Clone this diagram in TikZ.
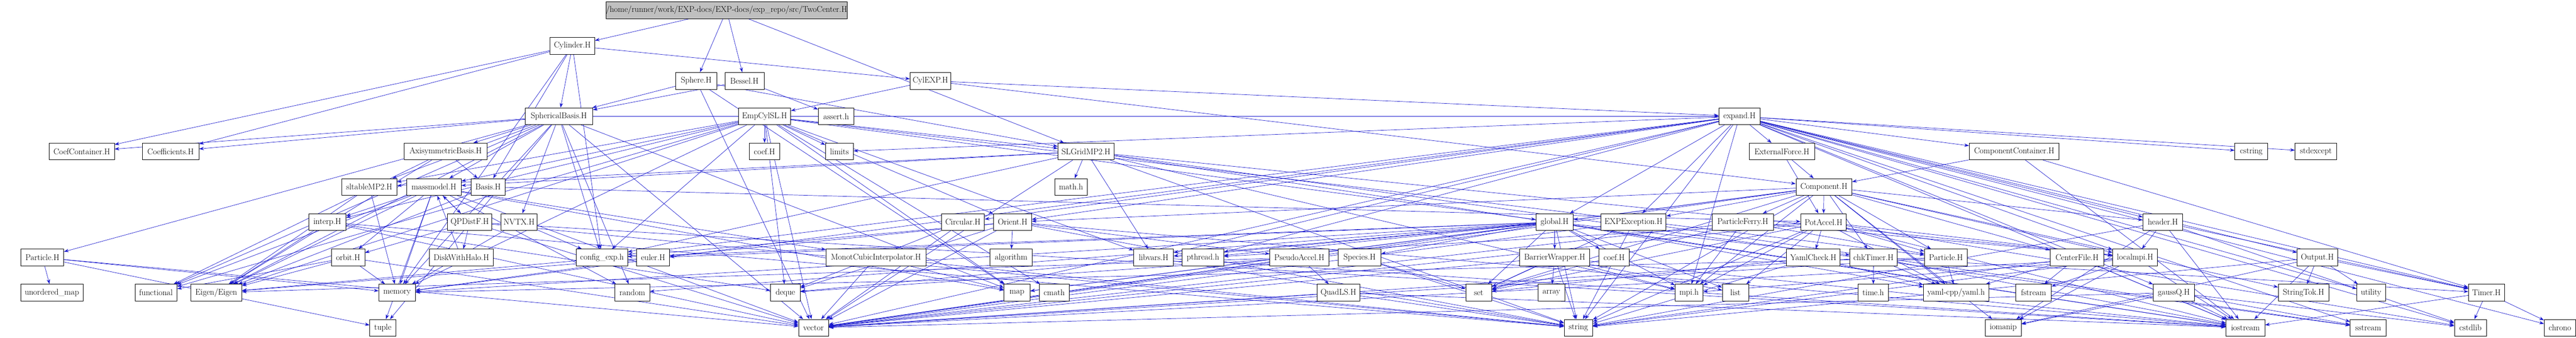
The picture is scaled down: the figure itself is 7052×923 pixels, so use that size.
\documentclass[tikz,border=0pt]{standalone}
\usetikzlibrary{arrows.meta,backgrounds}
\definecolor{edgeblue}{RGB}{25,25,205}
\definecolor{rootgray}{RGB}{191,191,191}
\tikzset{
  box/.style={draw=black,line width=1.2pt,fill=white,minimum height=46pt,inner sep=0pt,font=\fontsize{23}{26}\selectfont},
  rootbox/.style={box,fill=rootgray},
  edge/.style={draw=edgeblue,line width=1pt,-{Stealth[length=13pt,width=9pt]}}
}
\begin{document}
\begin{tikzpicture}[x=1pt,y=-1pt]
\useasboundingbox (0,0) rectangle (7052,923);
\newcommand{\nd}[5]{\node[box,minimum width=#4pt] (#1) at (#2,#3) {#5};}
\node[rootbox,minimum width=648pt] (root) at (1989,28) {/home/runner/work/EXP-docs/EXP-docs/exp\_repo/src/TwoCenter.H};
% row1
\nd{cyl}{1567}{125}{122}{Cylinder.H}
% row2
\nd{sph}{1906}{221}{113}{Sphere.H}
\nd{bes}{2038}{221}{107}{Bessel.H}
\nd{cylexp}{2547}{221}{111}{CylEXP.H}
% row3
\nd{sb}{1530}{318}{185}{SphericalBasis.H}
\nd{emp}{2093}{318}{143}{EmpCylSL.H}
\nd{assert}{2289}{318}{98}{assert.h}
\nd{expand}{4762}{318}{113}{expand.H}
% row4
\nd{ccf}{224}{414}{178}{CoefContainer.H}
\nd{cfs}{467}{414}{155}{Coefficients.H}
\nd{axi}{1220}{414}{226}{AxisymmetricBasis.H}
\nd{coefA}{2093}{414}{84}{coef.H}
\nd{limits}{2298}{414}{76}{limits}
\nd{slg}{2973}{414}{154}{SLGridMP2.H}
\nd{extf}{4878}{414}{179}{ExternalForce.H}
\nd{compc}{5514}{414}{246}{ComponentContainer.H}
\nd{cstring}{6163}{414}{90}{cstring}
\nd{stdexc}{6340}{414}{114}{stdexcept}
% row5
\nd{sltab}{1011}{511}{151}{sltableMP2.H}
\nd{mm}{1188}{511}{149}{massmodel.H}
\nd{basis}{1336}{511}{94}{Basis.H}
\nd{mathh}{2932}{511}{90}{math.h}
\nd{comp}{4993}{511}{153}{Component.H}
% row6
\nd{interp}{896}{607}{102}{interp.H}
\nd{qpd}{1286}{607}{121}{QPDistF.H}
\nd{nvtx}{1421}{607}{99}{NVTX.H}
\nd{circ}{2636}{607}{118}{Circular.H}
\nd{orient}{2772}{607}{104}{Orient.H}
\nd{glob}{4256}{607}{102}{global.H}
\nd{expe}{4472}{607}{178}{EXPException.H}
\nd{pferry}{4771}{607}{167}{ParticleFerry.H}
\nd{potacc}{4992}{607}{125}{PotAccel.H}
\nd{header}{5921}{607}{109}{header.H}
% row7
\nd{partL}{116}{704}{117}{Particle.H}
\nd{orbit}{953}{704}{91}{orbit.H}
\nd{dwh}{1263}{704}{174}{DiskWithHalo.H}
\nd{cfg}{1648}{704}{140}{config\_exp.h}
\nd{euler}{1788}{704}{90}{euler.H}
\nd{mci}{2398}{704}{273}{MonotCubicInterpolator.H}
\nd{algo}{2768}{704}{115}{algorithm}
\nd{libvars}{3158}{704}{109}{libvars.H}
\nd{pthread}{3293}{704}{114}{pthread.h}
\nd{pseudo}{3557}{704}{162}{PseudoAccel.H}
\nd{species}{3722}{704}{117}{Species.H}
\nd{barrier}{4256}{704}{192}{BarrierWrapper.H}
\nd{coefB}{4419}{704}{83}{coef.H}
\nd{yamlc}{4964}{704}{147}{YamlCheck.H}
\nd{chkt}{5129}{704}{129}{chkTimer.H}
\nd{partR}{5327}{704}{117}{Particle.H}
\nd{centerf}{5686}{704}{146}{CenterFile.H}
\nd{localmpi}{5845}{704}{123}{localmpi.H}
\nd{output}{6344}{704}{111}{Output.H}
% row8
\nd{umap}{142}{800}{170}{unordered\_map}
\nd{functional}{427}{800}{115}{functional}
\nd{eigen}{592}{800}{140}{Eigen/Eigen}
\nd{memory}{1087}{800}{100}{memory}
\nd{random}{1731}{800}{95}{random}
\nd{deque}{2150}{800}{81}{deque}
\nd{map}{2784}{800}{71}{map}
\nd{cmath}{2886}{800}{81}{cmath}
\nd{quadls}{3664}{800}{118}{QuadLS.H}
\nd{set}{4048}{800}{71}{set}
\nd{array}{4247}{800}{74}{array}
\nd{mpih}{4624}{800}{76}{mpi.h}
\nd{list}{4751}{800}{72}{list}
\nd{timeh}{5128}{800}{82}{time.h}
\nd{yaml}{5355}{800}{179}{yaml-cpp/yaml.h}
\nd{fstream}{5567}{800}{97}{fstream}
\nd{gaussq}{5951}{800}{113}{gaussQ.H}
\nd{stringtok}{6306}{800}{138}{StringTok.H}
\nd{utility}{6491}{800}{78}{utility}
\nd{timer}{6807}{800}{99}{Timer.H}
% row9
\nd{tuple}{1048}{896}{71}{tuple}
\nd{vector}{2227}{896}{82}{vector}
\nd{string}{4321}{896}{78}{string}
\nd{iomanip}{5484}{896}{98}{iomanip}
\nd{iostream}{6147}{896}{106}{iostream}
\nd{sstream}{6483}{896}{98}{sstream}
\nd{cstdlib}{6763}{896}{88}{cstdlib}
\nd{chrono}{7008}{896}{86}{chrono}
\begin{pgfonlayer}{background}
\foreach \a/\b in {root/cyl,root/sph,root/bes,root/slg,
 cyl/cylexp,cyl/basis,cyl/cfg,cyl/ccf,cyl/cfs,cyl/memory,cyl/sb,
 sph/sb,sph/slg,sph/vector,sph/map,
 bes/sb,bes/assert,
 cylexp/emp,cylexp/expand,cylexp/comp,
 sb/ccf,sb/cfs,sb/axi,sb/nvtx,sb/cfg,sb/expand,sb/eigen,sb/memory,sb/vector,sb/random,sb/map,sb/mm,sb/partL,sb/functional,sb/tuple,sb/sltab,
 axi/basis,axi/eigen,axi/functional,
 basis/eigen,basis/potacc,
 emp/coefA,emp/limits,emp/slg,emp/orient,emp/deque,emp/vector,emp/map,emp/cmath,emp/libvars,emp/cfg,emp/partR,emp/mm,emp/sltab,emp/interp,emp/eigen,emp/functional,emp/memory,emp/expand,emp/glob,
 slg/mathh,slg/libvars,slg/vector,slg/mm,slg/sltab,slg/cfg,slg/mpih,slg/string,slg/iostream,slg/localmpi,slg/sstream,
 mm/interp,mm/qpd,mm/orbit,mm/eigen,mm/memory,mm/random,mm/vector,mm/map,mm/tuple,mm/functional,mm/mci,
 qpd/mm,qpd/dwh,qpd/orbit,qpd/vector,qpd/string,qpd/iostream,
 dwh/mm,
 interp/eigen,interp/vector,interp/deque,interp/string,
 orbit/eigen,orbit/memory,orbit/functional,orbit/vector,
 nvtx/cfg,nvtx/memory,
 sltab/eigen,sltab/memory,
 partL/umap,partL/memory,partL/tuple,partL/vector,
 expand/glob,expand/expe,expand/mpih,expand/extf,expand/compc,expand/cstring,expand/stdexc,expand/output,expand/timer,expand/cstdlib,expand/chrono,expand/sstream,expand/iostream,expand/orient,expand/circ,expand/libvars,expand/pthread,expand/localmpi,expand/gaussq,expand/header,expand/limits,expand/cfg,expand/utility,expand/vector,expand/string,expand/memory,
 extf/comp,extf/potacc,
 compc/comp,compc/timer,compc/iostream,
 comp/glob,comp/expe,comp/pferry,comp/potacc,comp/orient,comp/mpih,comp/yaml,comp/centerf,comp/localmpi,comp/header,comp/partR,comp/chkt,comp/vector,comp/map,comp/set,comp/string,comp/iomanip,comp/stringtok,
 glob/barrier,glob/coefB,glob/species,glob/set,glob/mpih,glob/list,glob/string,glob/vector,glob/map,glob/random,glob/deque,glob/memory,glob/euler,glob/libvars,glob/pthread,glob/chkt,glob/yaml,glob/cfg,glob/iostream,
 expe/string,expe/set,expe/sstream,expe/vector,
 pferry/partR,pferry/localmpi,pferry/mpih,pferry/vector,pferry/set,
 potacc/yamlc,potacc/partR,potacc/yaml,potacc/mpih,potacc/list,potacc/string,potacc/localmpi,potacc/pthread,potacc/cstdlib,potacc/vector,potacc/set,potacc/iostream,
 chkt/timeh,chkt/yaml,chkt/iostream,chkt/timer,chkt/vector,
 yamlc/yaml,yamlc/set,yamlc/string,
 barrier/array,barrier/mpih,barrier/list,barrier/set,barrier/string,barrier/iostream,barrier/vector,
 species/set,species/string,
 quadls/vector,quadls/string,quadls/iostream,
 localmpi/fstream,localmpi/iomanip,localmpi/mpih,localmpi/iostream,localmpi/string,localmpi/vector,
 centerf/fstream,centerf/yaml,centerf/iostream,centerf/string,
 header/localmpi,header/iostream,header/iomanip,header/string,header/cstdlib,header/timer,
 output/stringtok,output/utility,output/timer,output/iomanip,output/iostream,output/string,
 gaussq/iostream,gaussq/sstream,gaussq/cstdlib,gaussq/iomanip,gaussq/vector,
 timer/cstdlib,timer/chrono,timer/iostream,
 mci/vector,mci/map,mci/string,
 orient/algo,orient/deque,orient/vector,orient/eigen,orient/euler,orient/string,orient/pseudo,orient/iostream,
 pseudo/quadls,pseudo/eigen,pseudo/deque,pseudo/vector,
 circ/vector,circ/deque,
 libvars/string,libvars/iostream,
 euler/eigen,euler/memory,
 partR/yaml,partR/memory,partR/vector}
 { \draw[edge] (\a) -- (\b); }
\end{pgfonlayer}
\end{tikzpicture}
\end{document}
